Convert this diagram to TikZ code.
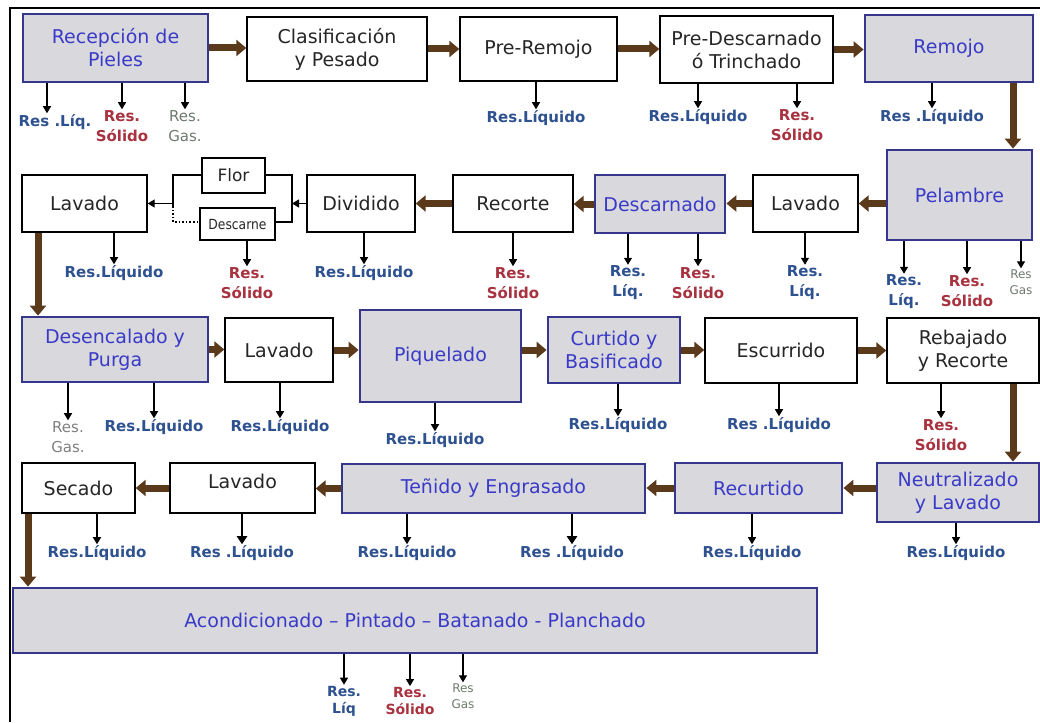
\documentclass[tikz,border=0pt]{standalone}
\usepackage{fontspec}
\setmainfont{DejaVu Sans}
\newfontfamily\condfont[FakeStretch=0.88]{DejaVu Sans}
\usetikzlibrary{arrows.meta}
\definecolor{boxblue}{HTML}{36368C}
\definecolor{txtblue}{HTML}{3A3AC8}
\definecolor{boxgray}{HTML}{D9D9DD}
\definecolor{brownarr}{HTML}{5B3A1C}
\definecolor{liqblue}{HTML}{2E5190}
\definecolor{solred}{HTML}{A8323F}
\definecolor{gasgray}{HTML}{6F7A6F}
\begin{document}
\begin{tikzpicture}[x=1pt,y=-1pt,
  gbox/.style={draw=boxblue, line width=2.8pt, fill=boxgray, text=txtblue,
    font=\fontsize{19}{23}\selectfont, align=center, inner sep=0pt},
  wbox/.style={draw=black, line width=1.4pt, fill=white, text=black!85,
    font=\fontsize{19}{23}\selectfont, align=center, inner sep=0pt},
  bigarr/.style={draw=brownarr, line width=7pt, -{Triangle[length=10pt,width=16pt]}},
  resarr/.style={draw=black, line width=1.2pt, -{Triangle[length=7pt,width=8pt]}},
  thkarr/.style={draw=black, line width=2.2pt, -{Triangle[length=8pt,width=10pt]}},
  thinarr/.style={draw=black, line width=1.4pt, -{Triangle[length=7pt,width=8pt]}},
  labbase/.style={font=\bfseries\fontsize{15}{20}\selectfont, inner sep=1pt, align=center},
  lablq/.style={labbase, text=liqblue},
  labsd/.style={labbase, text=solred},
  labgs/.style={font=\fontsize{15}{20}\selectfont, inner sep=1pt, align=center, text=gasgray},
  labgss/.style={font=\fontsize{12}{16}\selectfont, inner sep=1pt, align=center, text=gasgray}
]
\useasboundingbox (0,0) rectangle (1040,722);
\fill[white] (0,0) rectangle (1040,722);
\draw[line width=1.5pt] (10,722) -- (10,8) -- (1040,8);

% helper coordinates
\coordinate (cA) at (1013,0);
\coordinate (cB) at (38,0);
\coordinate (cC) at (28,0);

% Row 1
\node[gbox, minimum width=185pt, minimum height=68pt] (rec) at (115.5,48) {Recepción de\\Pieles};
\node[wbox, minimum width=180pt, minimum height=64pt] (cla) at (337,49) {Clasificación\\y Pesado};
\node[wbox, minimum width=157pt, minimum height=64pt] (prer) at (538.5,49) {Pre-Remojo};
\node[wbox, minimum width=173pt, minimum height=67pt] (pred) at (746.5,49.5) {Pre-Descarnado\\ó Trinchado};
\node[gbox, minimum width=168pt, minimum height=67pt] (rem) at (949,48.5) {Remojo};

% Row 2
\node[gbox, minimum width=145pt, minimum height=90pt] (pel) at (959.5,195) {Pelambre};
\node[wbox, minimum width=105pt, minimum height=57pt] (lavb) at (805.5,203.5) {Lavado};
\node[gbox, minimum width=130pt, minimum height=58pt] (des) at (660,204) {Descarnado};
\node[wbox, minimum width=120pt, minimum height=57pt] (rct) at (513,203.5) {Recorte};
\node[wbox, minimum width=108pt, minimum height=57pt] (div) at (361,203.5) {Dividido};
\node[wbox, minimum width=63pt, minimum height=35pt, font=\fontsize{17}{20}\selectfont] (flor) at (233.5,175.5) {Flor};
\node[wbox, minimum width=75pt, minimum height=32pt, font=\condfont\fontsize{14}{17}\selectfont] (dsn) at (237.5,224) {Descarne};
\node[wbox, minimum width=125pt, minimum height=57pt] (lavc) at (84.5,203.5) {Lavado};

% Row 3
\node[gbox, minimum width=186pt, minimum height=65pt] (dsc) at (115,349.5) {Desencalado y\\Purga};
\node[wbox, minimum width=108pt, minimum height=64pt] (lavd) at (279,350) {Lavado};
\node[gbox, minimum width=161pt, minimum height=92pt] (piq) at (440.5,356) {Piquelado};
\node[gbox, minimum width=132pt, minimum height=66pt] (cur) at (614,350) {Curtido y\\Basificado};
\node[wbox, minimum width=152pt, minimum height=65pt] (esc) at (781,350.5) {Escurrido};
\node[wbox, minimum width=152pt, minimum height=65pt] (reb) at (963,350.5) {Rebajado\\y Recorte};

% Row 4
\node[gbox, minimum width=162pt, minimum height=59pt] (neu) at (958,492.5) {Neutralizado\\y Lavado};
\node[gbox, minimum width=167pt, minimum height=50pt] (rcu) at (758.5,488) {Recurtido};
\node[gbox, minimum width=303pt, minimum height=49pt] (ten) at (493.5,488.5) {Teñido y Engrasado};
\node[wbox, minimum width=145pt, minimum height=50pt] (lave) at (242.5,488) {\smash{Lavado}};
\node[wbox, minimum width=113pt, minimum height=50pt] (sec) at (78.5,488) {Secado};

% Row 5
\node[gbox, minimum width=804pt, minimum height=65pt] (aco) at (415,620.5) {Acondicionado – Pintado – Batanado - Planchado};

% main flow arrows
\draw[bigarr] (rec.east) -- (rec.east -| cla.west);
\draw[bigarr] (cla.east) -- (cla.east -| prer.west);
\draw[bigarr] (prer.east) -- (prer.east -| pred.west);
\draw[bigarr] (pred.east) -- (pred.east -| rem.west);
\draw[bigarr] (rem.south -| cA) -- (pel.north -| cA);
\draw[bigarr] (lavb.east -| pel.west) -- (lavb.east);
\draw[bigarr] (lavb.west) -- (lavb.west -| des.east);
\draw[bigarr] (des.west) -- (des.west -| rct.east);
\draw[bigarr] (rct.west) -- (rct.west -| div.east);
\draw[bigarr] (lavc.south -| cB) -- (dsc.north -| cB);
\draw[bigarr] (dsc.east) -- (dsc.east -| lavd.west);
\draw[bigarr] (lavd.east) -- (lavd.east -| piq.west);
\draw[bigarr] (cur.west -| piq.east) -- (cur.west);
\draw[bigarr] (cur.east) -- (cur.east -| esc.west);
\draw[bigarr] (esc.east) -- (esc.east -| reb.west);
\draw[bigarr] (reb.south -| cA) -- (neu.north -| cA);
\draw[bigarr] (rcu.east -| neu.west) -- (rcu.east);
\draw[bigarr] (rcu.west) -- (rcu.west -| ten.east);
\draw[bigarr] (ten.west) -- (ten.west -| lave.east);
\draw[bigarr] (lave.west) -- (lave.west -| sec.east);
\draw[bigarr] (sec.south -| cC) -- (aco.north -| cC);

% Flor / Descarne branch
\coordinate (bR1) at (292,175);
\coordinate (bR2) at (292,222);
\coordinate (bL1) at (173,175);
\coordinate (bLm) at (173,206);
\coordinate (bL2) at (173,222);
\draw[line width=1.4pt] (flor.east |- bR1) -- (bR1) -- (bR2) -- (dsn.east |- bR2);
\draw[thinarr] (div.west) -- (div.west -| bR1);
\draw[line width=2.6pt] (flor.west |- bL1) -- (bL1) -- (bLm);
\draw[line width=1.6pt, dotted] (bLm) -- (bL2) -- (dsn.west |- bL2);
\draw[thinarr] (lavc.east -| bL1) -- (lavc.east);

% Residue labels, row 1
\node[lablq] (l1) at (55,122) {Res .Líq.};
\coordinate (a1) at ([xshift=-8pt]l1.north);
\node[labsd] (l2) at (122,126) {Res.\\Sólido};
\node[labgs] (l3) at (185,126) {Res.\\Gas.};
\node[lablq] (l4) at (536,118) {Res.Líquido};
\node[lablq] (l5) at (698,117) {Res.Líquido};
\node[labsd] (l6) at (797,125) {Res.\\Sólido};
\node[lablq] (l7) at (932,117) {Res .Líquido};
\draw[resarr] (rec.south -| a1) -- (a1);
\draw[resarr] (rec.south -| l2) -- (l2.north);
\draw[resarr] (rec.south -| l3) -- (l3.north);
\draw[resarr] (prer.south -| l4) -- (l4.north);
\draw[resarr] (pred.south -| l5) -- (l5.north);
\draw[resarr] (pred.south -| l6) -- (l6.north);
\draw[resarr] (rem.south -| l7) -- (l7.north);

% row 2
\node[lablq] (l8) at (114,273) {Res.Líquido};
\node[labsd] (l9) at (247,283) {Res.\\Sólido};
\node[lablq] (l10) at (364,273) {Res.Líquido};
\node[labsd] (l11) at (513,283) {Res.\\Sólido};
\node[lablq] (l12) at (628,283) {Res.\\Líq.};
\node[labsd] (l13) at (698,283) {Res.\\Sólido};
\node[lablq] (l14) at (805,283) {Res.\\Líq.};
\node[lablq] (l15) at (904,292) {Res.\\Líq.};
\node[labsd] (l16) at (967,291) {Res.\\Sólido};
\node[labgss] (l17) at (1021,282) {Res\\Gas};
\draw[resarr] (lavc.south -| l8) -- (l8.north);
\draw[resarr] (dsn.south -| l9) -- (l9.north);
\draw[resarr] (div.south -| l10) -- (l10.north);
\draw[resarr] (rct.south -| l11) -- (l11.north);
\draw[resarr] (des.south -| l12) -- (l12.north);
\draw[resarr] (des.south -| l13) -- (l13.north);
\draw[resarr] (lavb.south -| l14) -- (l14.north);
\draw[resarr] (pel.south -| l15) -- (l15.north);
\draw[resarr] (pel.south -| l16) -- (l16.north);
\draw[resarr] (pel.south -| l17) -- (l17.north);

% row 3
\node[labgs, text=gray] (l18) at (68,437) {Res.\\Gas.};
\node[lablq] (l19) at (154,427) {Res.Líquido};
\node[lablq] (l20) at (280,427) {Res.Líquido};
\node[lablq] (l21) at (435,440) {Res.Líquido};
\node[lablq] (l22) at (618,425) {Res.Líquido};
\node[lablq] (l23) at (779,425) {Res .Líquido};
\node[labsd] (l24) at (941,435) {Res.\\Sólido};
\draw[resarr] (dsc.south -| l18) -- (l18.north);
\draw[resarr] (dsc.south -| l19) -- (l19.north);
\draw[resarr] (lavd.south -| l20) -- (l20.north);
\draw[resarr] (piq.south -| l21) -- (l21.north);
\draw[resarr] (cur.south -| l22) -- (l22.north);
\draw[resarr] (esc.south -| l23) -- (l23.north);
\draw[resarr] (reb.south -| l24) -- (l24.north);

% row 4
\node[lablq] (l25) at (97,553) {Res.Líquido};
\node[lablq] (l26) at (242,553) {Res .Líquido};
\node[lablq] (l27) at (407,553) {Res.Líquido};
\node[lablq] (l28) at (572,553) {Res .Líquido};
\node[lablq] (l29) at (752,553) {Res.Líquido};
\node[lablq] (l30) at (956,553) {Res.Líquido};
\draw[resarr] (sec.south -| l25) -- (l25.north);
\draw[thkarr] (lave.south -| l26) -- (l26.north);
\draw[resarr] (ten.south -| l27) -- (l27.north);
\draw[thkarr] (ten.south -| l28) -- (l28.north);
\draw[resarr] (rcu.south -| l29) -- (l29.north);
\draw[resarr] (neu.south -| l30) -- (l30.north);

% row 5
\node[lablq, font=\bfseries\fontsize{14}{17}\selectfont] (l31) at (344,701) {Res.\\Líq};
\node[labsd, font=\bfseries\fontsize{14}{17}\selectfont] (l32) at (410,701) {Res.\\Sólido};
\node[labgss] (l33) at (463,696) {Res\\Gas};
\draw[resarr] (aco.south -| l31) -- (l31.north);
\draw[resarr] (aco.south -| l32) -- (l32.north);
\draw[resarr] (aco.south -| l33) -- (l33.north);
\end{tikzpicture}
\end{document}
